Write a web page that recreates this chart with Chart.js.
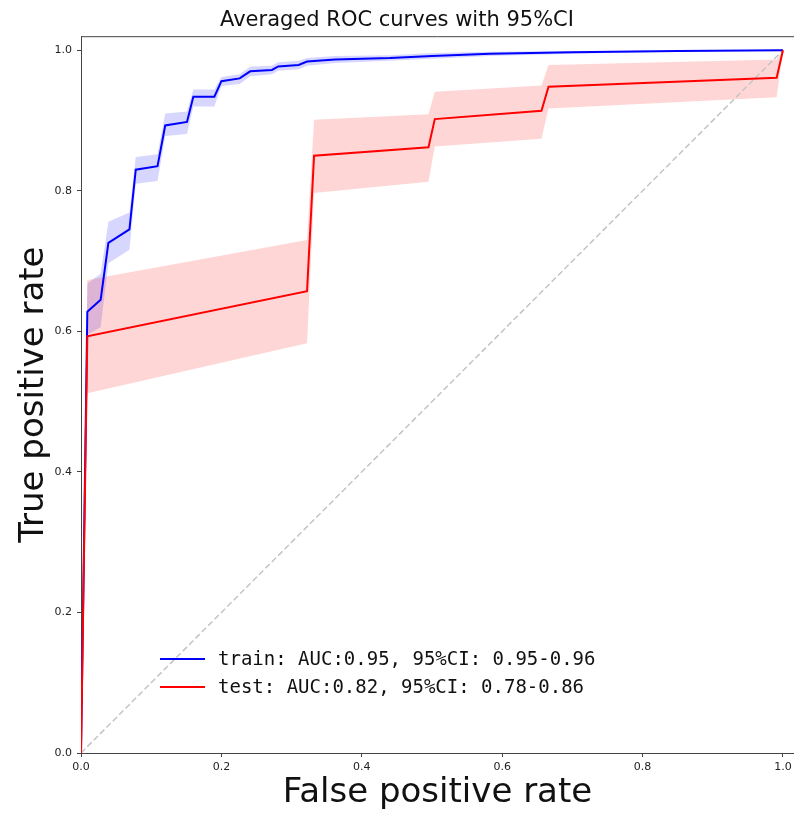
<!DOCTYPE html>
<html>
<head>
<meta charset="utf-8">
<script src="https://cdn.jsdelivr.net/npm/chart.js@4/dist/chart.umd.min.js"></script>
<style>
  html, body { margin: 0; padding: 0; background: #fff; }
  canvas { display: block; }
</style>
</head>
<body>
<canvas id="roc" width="794" height="814"></canvas>
<script>
// train curve (mean + 95% CI)
var trainFpr  = [0, 0.009, 0.028, 0.039, 0.069, 0.078, 0.109, 0.120, 0.151, 0.160, 0.190, 0.200, 0.226, 0.241, 0.272, 0.281, 0.310, 0.322, 0.362, 0.44, 0.50, 0.583, 0.70, 0.85, 1.0];
var trainTpr  = [0, 0.628, 0.645, 0.726, 0.745, 0.830, 0.835, 0.893, 0.898, 0.934, 0.934, 0.956, 0.960, 0.970, 0.972, 0.977, 0.979, 0.984, 0.987, 0.989, 0.992, 0.995, 0.997, 0.999, 1.0];
var trainLow  = [0, 0.595, 0.606, 0.697, 0.716, 0.810, 0.814, 0.878, 0.881, 0.920, 0.920, 0.949, 0.952, 0.963, 0.966, 0.971, 0.973, 0.978, 0.982, 0.985, 0.988, 0.992, 0.995, 0.998, 1.0];
var trainHigh = [0, 0.668, 0.682, 0.756, 0.769, 0.848, 0.852, 0.910, 0.913, 0.944, 0.944, 0.962, 0.966, 0.977, 0.978, 0.983, 0.985, 0.989, 0.992, 0.993, 0.996, 0.998, 0.999, 1.0, 1.0];

// test curve (mean + 95% CI)
var testFpr  = [0, 0.009, 0.322, 0.332, 0.495, 0.504, 0.656, 0.666, 0.991, 1.0];
var testTpr  = [0, 0.593, 0.657, 0.850, 0.862, 0.902, 0.914, 0.948, 0.961, 1.0];
var testLow  = [0, 0.512, 0.583, 0.797, 0.813, 0.863, 0.874, 0.917, 0.933, 1.0];
var testHigh = [0, 0.673, 0.730, 0.901, 0.909, 0.941, 0.950, 0.979, 0.987, 1.0];

var chanceX = [0, 1];
var chanceY = [0, 1];

var xTicks = [0, 0.2, 0.4, 0.6, 0.8, 1.0];
var yTicks = [0, 0.2, 0.4, 0.6, 0.8, 1.0];

var trainLabel = "train: AUC:0.95, 95%CI: 0.95-0.96";
var testLabel = "test: AUC:0.82, 95%CI: 0.78-0.86";

function pts(xs, ys) {
    return xs.map(function (x, i) { return {x: x, y: ys[i]}; });
}

var lineBase = {pointRadius: 0, tension: 0, fill: false};

// frame line on top + legend inside the plot
var extras = {
    id: 'extras',
    afterDraw: function (chart) {
        var ctx = chart.ctx, a = chart.chartArea;
        ctx.save();
        ctx.strokeStyle = '#444';
        ctx.lineWidth = 1;
        ctx.beginPath();
        ctx.moveTo(a.left, a.top + 0.5);
        ctx.lineTo(a.right, a.top + 0.5);
        ctx.stroke();

        var rows = [[trainLabel, '#0000ff', 659], [testLabel, '#ff0000', 687]];
        ctx.font = '19px "DejaVu Sans Mono"';
        ctx.textBaseline = 'middle';
        ctx.fillStyle = '#111';
        rows.forEach(function (r) {
            ctx.strokeStyle = r[1];
            ctx.lineWidth = 2;
            ctx.beginPath();
            ctx.moveTo(160, r[2]);
            ctx.lineTo(205, r[2]);
            ctx.stroke();
            ctx.fillText(r[0], 218, r[2] + 1);
        });
        ctx.restore();
    }
};

var tickFont = {family: 'DejaVu Sans', size: 11};

new Chart(document.getElementById('roc'), {
    type: 'line',
    data: {
        datasets: [
            Object.assign({label: 'train', data: pts(trainFpr, trainTpr), borderColor: '#0000ff', borderWidth: 2, order: 1}, lineBase),
            Object.assign({label: 'test', data: pts(testFpr, testTpr), borderColor: '#ff0000', borderWidth: 2, order: 0}, lineBase),
            Object.assign({label: 'chance', data: pts(chanceX, chanceY), borderColor: '#c4c4c4', borderWidth: 1.5, borderDash: [6, 3], order: 2}, lineBase),
            Object.assign({label: 'train low', data: pts(trainFpr, trainLow), borderWidth: 0, borderColor: 'rgba(0,0,0,0)', order: 10}, lineBase),
            {label: 'train high', data: pts(trainFpr, trainHigh), borderWidth: 0, borderColor: 'rgba(0,0,0,0)', pointRadius: 0, tension: 0,
             fill: {target: 3}, backgroundColor: 'rgba(0,0,255,0.16)', order: 10},
            Object.assign({label: 'test low', data: pts(testFpr, testLow), borderWidth: 0, borderColor: 'rgba(0,0,0,0)', order: 9}, lineBase),
            {label: 'test high', data: pts(testFpr, testHigh), borderWidth: 0, borderColor: 'rgba(0,0,0,0)', pointRadius: 0, tension: 0,
             fill: {target: 5}, backgroundColor: 'rgba(255,0,0,0.16)', order: 9}
        ]
    },
    options: {
        responsive: false,
        animation: false,
        layout: {padding: 0},
        plugins: {
            legend: {display: false},
            tooltip: {enabled: false},
            title: {
                display: true,
                text: 'Averaged ROC curves with 95%CI',
                font: {family: 'DejaVu Sans', size: 21, weight: 'normal'},
                color: '#111',
                padding: {top: 8, bottom: 3}
            }
        },
        scales: {
            x: {
                type: 'linear',
                min: 0,
                max: 1.0157,
                afterBuildTicks: function (s) { s.ticks = xTicks.map(function (v) { return {value: v}; }); },
                afterFit: function (s) { s.height = 61; s.paddingLeft = 0; s.paddingRight = 0; },
                ticks: {
                    callback: function (v) { return v.toFixed(1); },
                    font: tickFont, color: '#222', padding: 4, maxRotation: 0, autoSkip: false
                },
                grid: {display: true, drawOnChartArea: false, drawTicks: true, tickLength: 4, color: '#444'},
                border: {display: true, color: '#444', width: 1},
                title: {
                    display: true, text: 'False positive rate', color: '#111',
                    font: {family: 'DejaVu Sans', size: 34}, padding: {top: 0, bottom: 0}
                }
            },
            y: {
                type: 'linear',
                min: 0,
                max: 1.02,
                afterBuildTicks: function (s) { s.ticks = yTicks.map(function (v) { return {value: v}; }); },
                afterFit: function (s) { s.width = 81; s.paddingTop = 0; s.paddingBottom = 0; },
                ticks: {
                    callback: function (v) { return v.toFixed(1); },
                    font: tickFont, color: '#222', padding: 5, autoSkip: false
                },
                grid: {display: true, drawOnChartArea: false, drawTicks: true, tickLength: 4, color: '#444'},
                border: {display: true, color: '#444', width: 1},
                title: {
                    display: true, text: 'True positive rate', color: '#111',
                    font: {family: 'DejaVu Sans', size: 34}, padding: {top: 14, bottom: 0}
                }
            }
        }
    },
    plugins: [extras]
});
</script>
</body>
</html>
